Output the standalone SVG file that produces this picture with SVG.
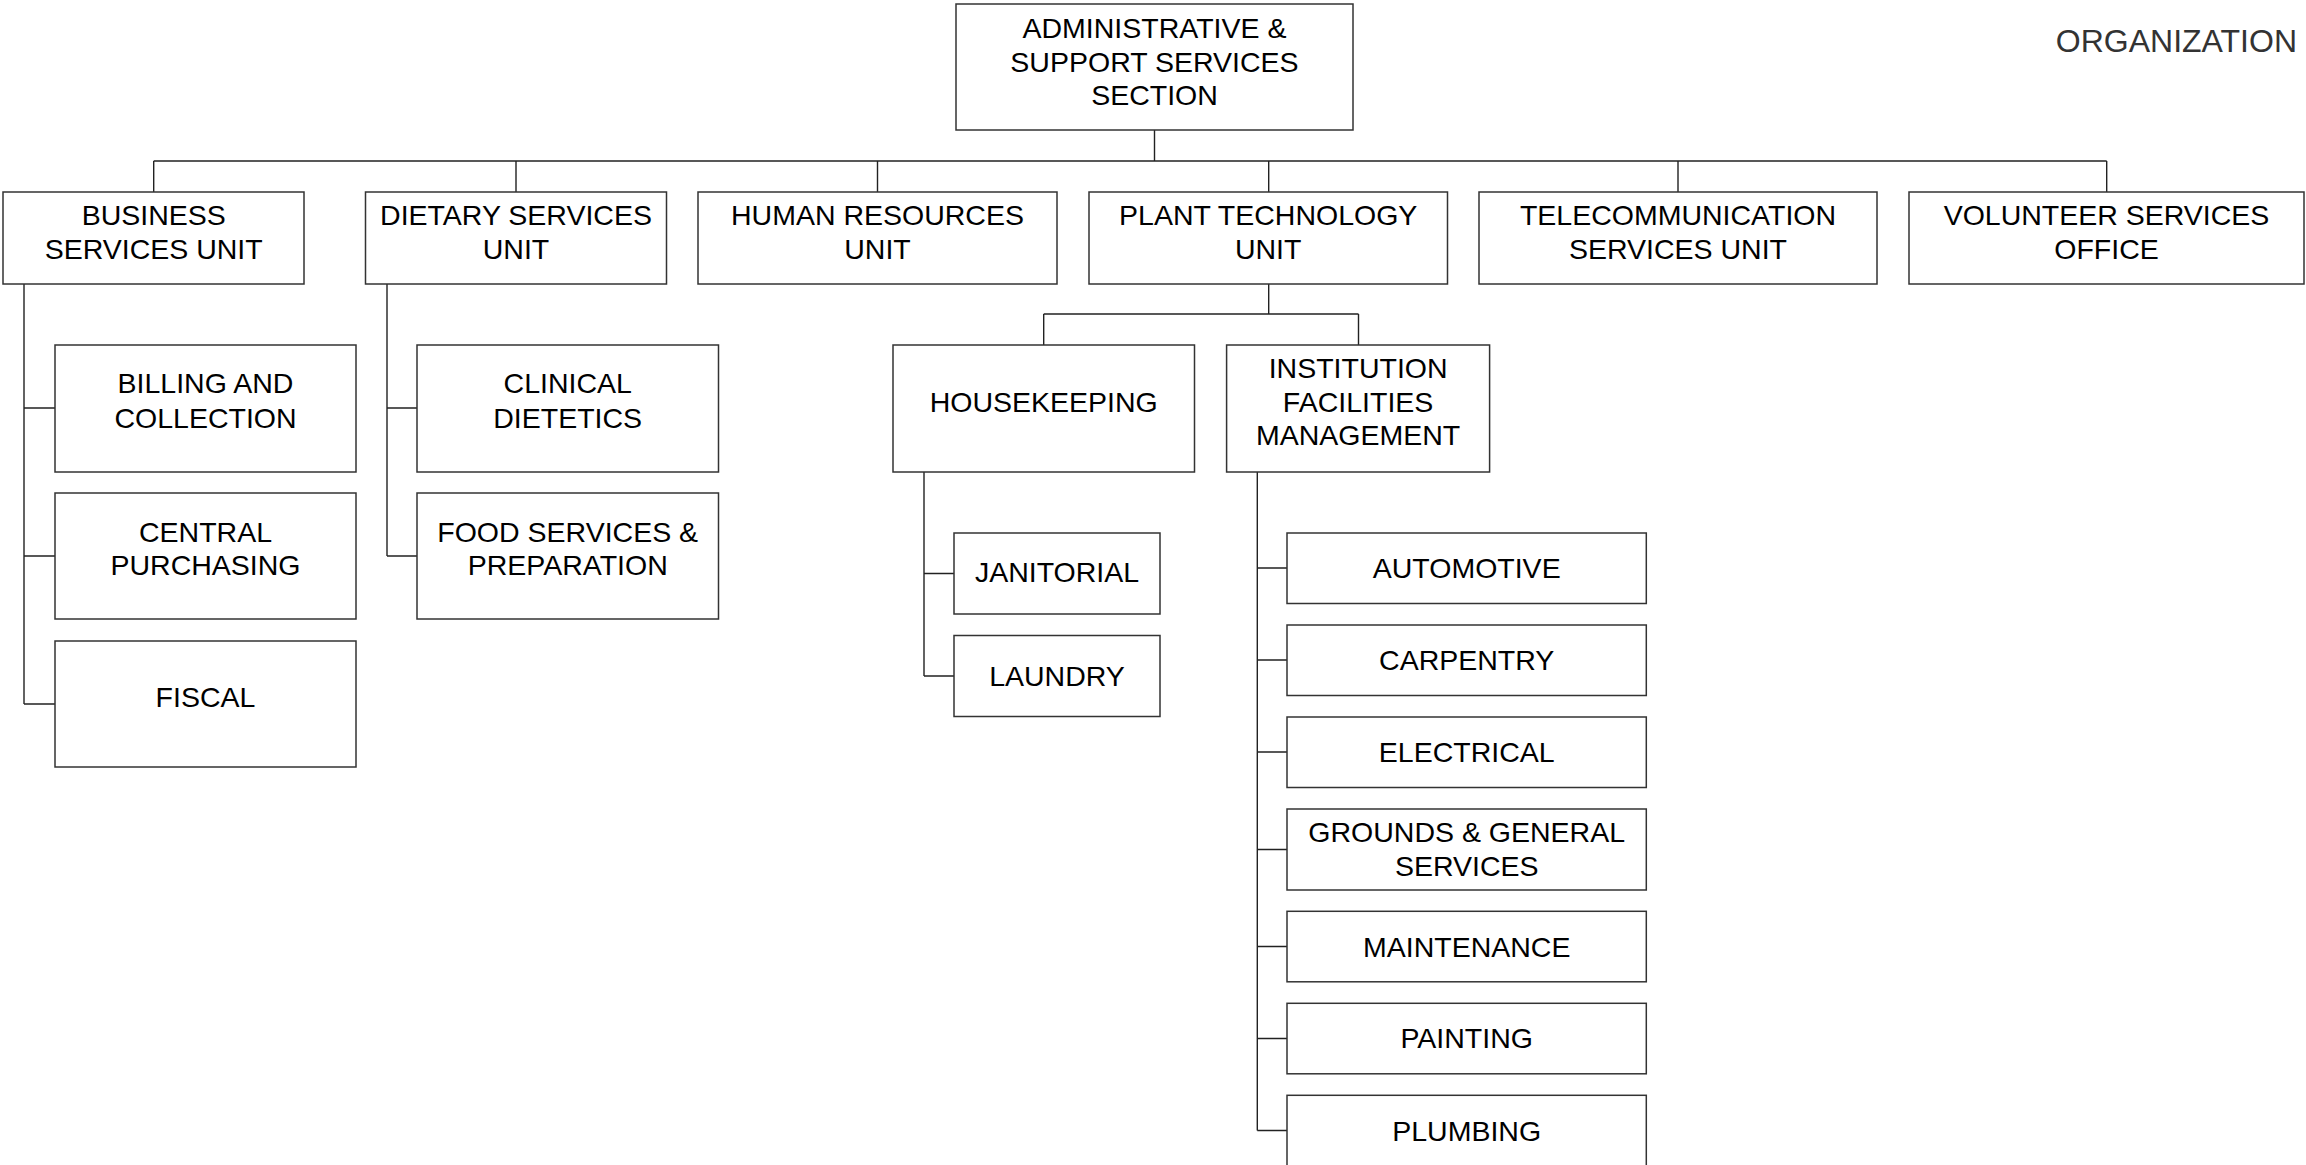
<svg xmlns="http://www.w3.org/2000/svg" width="2306" height="1165" viewBox="0 0 2306 1165">
<style>
.b{fill:#fff;stroke:#333;stroke-width:1.5}
.t{font-family:"Liberation Sans",Arial,sans-serif;font-size:28.5px;fill:#000;text-anchor:middle}
.c{fill:none;stroke:#222;stroke-width:1.4}
</style>
<rect width="2306" height="1165" fill="#fff"/>
<text x="2297" y="52" style="font-family:'Liberation Sans',Arial,sans-serif;font-size:32px;fill:#333;text-anchor:end">ORGANIZATION</text>
<g id="connectors">
<path class="c" d="M1154.5 130V161M153.7 161H2106.7M153.7 161V192M516 161V192M877.5 161V192M1268.7 161V192M1678 161V192M2106.7 161V192"/>
<path class="c" d="M24 284V704M24 408H55M24 556H55M24 704H55"/>
<path class="c" d="M387 284V556M387 408H417M387 556H417"/>
<path class="c" d="M1268.7 284V314M1043.7 314H1358.5M1043.7 314V345M1358.5 314V345"/>
<path class="c" d="M924 472V676M924 573.5H954M924 676H954"/>
<path class="c" d="M1257.3 472V1130.5M1257.3 568H1287M1257.3 660H1287M1257.3 752H1287M1257.3 849.5H1287M1257.3 946.5H1287M1257.3 1038.5H1287M1257.3 1130.5H1287"/>
</g>
<g id="n-admin"><rect class="b" x="956" y="4" width="397" height="126"/><text class="t" x="1154.5" y="38">ADMINISTRATIVE &amp;</text><text class="t" x="1154.5" y="72">SUPPORT SERVICES</text><text class="t" x="1154.5" y="105">SECTION</text></g>
<g id="n-business"><rect class="b" x="3" y="192" width="301" height="92"/><text class="t" x="153.7" y="225">BUSINESS</text><text class="t" x="153.7" y="259">SERVICES UNIT</text></g>
<g id="n-dietary"><rect class="b" x="365.5" y="192" width="301" height="92"/><text class="t" x="516" y="225">DIETARY SERVICES</text><text class="t" x="516" y="259">UNIT</text></g>
<g id="n-hr"><rect class="b" x="698" y="192" width="359" height="92"/><text class="t" x="877.5" y="225">HUMAN RESOURCES</text><text class="t" x="877.5" y="259">UNIT</text></g>
<g id="n-plant"><rect class="b" x="1089" y="192" width="358.5" height="92"/><text class="t" x="1268.2" y="225">PLANT TECHNOLOGY</text><text class="t" x="1268.2" y="259">UNIT</text></g>
<g id="n-telecom"><rect class="b" x="1479" y="192" width="398" height="92"/><text class="t" x="1678" y="225">TELECOMMUNICATION</text><text class="t" x="1678" y="259">SERVICES UNIT</text></g>
<g id="n-volunteer"><rect class="b" x="1909" y="192" width="395" height="92"/><text class="t" x="2106.5" y="225">VOLUNTEER SERVICES</text><text class="t" x="2106.5" y="259">OFFICE</text></g>
<g id="n-billing"><rect class="b" x="55" y="345" width="301" height="127"/><text class="t" x="205.5" y="393">BILLING AND</text><text class="t" x="205.5" y="428">COLLECTION</text></g>
<g id="n-central"><rect class="b" x="55" y="493" width="301" height="126"/><text class="t" x="205.5" y="542">CENTRAL</text><text class="t" x="205.5" y="575">PURCHASING</text></g>
<g id="n-fiscal"><rect class="b" x="55" y="641" width="301" height="126"/><text class="t" x="205.5" y="706.5">FISCAL</text></g>
<g id="n-clinical"><rect class="b" x="417" y="345" width="301.5" height="127"/><text class="t" x="567.7" y="393">CLINICAL</text><text class="t" x="567.7" y="428">DIETETICS</text></g>
<g id="n-food"><rect class="b" x="417" y="493" width="301.5" height="126"/><text class="t" x="567.7" y="542">FOOD SERVICES &amp;</text><text class="t" x="567.7" y="575">PREPARATION</text></g>
<g id="n-housekeeping"><rect class="b" x="893" y="345" width="301.5" height="127"/><text class="t" x="1043.7" y="411.5">HOUSEKEEPING</text></g>
<g id="n-ifm"><rect class="b" x="1226.6" y="345" width="263" height="127"/><text class="t" x="1358.1" y="378">INSTITUTION</text><text class="t" x="1358.1" y="411.5">FACILITIES</text><text class="t" x="1358.1" y="445">MANAGEMENT</text></g>
<g id="n-janitorial"><rect class="b" x="954" y="533" width="206" height="81"/><text class="t" x="1057" y="581.5">JANITORIAL</text></g>
<g id="n-laundry"><rect class="b" x="954" y="635.5" width="206" height="81"/><text class="t" x="1057" y="686">LAUNDRY</text></g>
<g id="n-automotive"><rect class="b" x="1287" y="533" width="359.3" height="70.5"/><text class="t" x="1466.7" y="577.5">AUTOMOTIVE</text></g>
<g id="n-carpentry"><rect class="b" x="1287" y="625" width="359.3" height="70.5"/><text class="t" x="1466.7" y="670">CARPENTRY</text></g>
<g id="n-electrical"><rect class="b" x="1287" y="717" width="359.3" height="70.5"/><text class="t" x="1466.7" y="761.5">ELECTRICAL</text></g>
<g id="n-grounds"><rect class="b" x="1287" y="809" width="359.3" height="81"/><text class="t" x="1466.7" y="841.5">GROUNDS &amp; GENERAL</text><text class="t" x="1466.7" y="875.5">SERVICES</text></g>
<g id="n-maintenance"><rect class="b" x="1287" y="911.3" width="359.3" height="70.5"/><text class="t" x="1466.7" y="956.5">MAINTENANCE</text></g>
<g id="n-painting"><rect class="b" x="1287" y="1003.3" width="359.3" height="70.5"/><text class="t" x="1466.7" y="1048.3">PAINTING</text></g>
<g id="n-plumbing"><rect class="b" x="1287" y="1095.3" width="359.3" height="75"/><text class="t" x="1466.7" y="1140.5">PLUMBING</text></g>
</svg>
